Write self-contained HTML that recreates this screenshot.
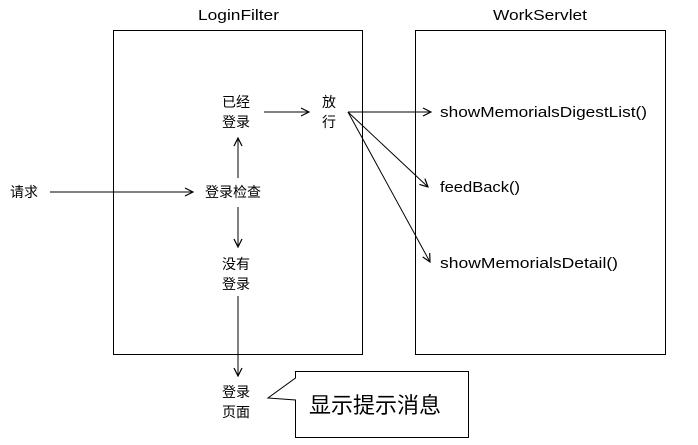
<!DOCTYPE html>
<html><head><meta charset="utf-8"><style>
body{margin:0;background:#fff;width:698px;height:440px;overflow:hidden}
text{font-family:"Liberation Sans","Noto Sans CJK SC",sans-serif;font-size:14px;fill:#000}
.l{font-size:15px}
</style></head><body>
<svg width="698" height="440" xmlns="http://www.w3.org/2000/svg">
<defs><marker id="a" markerWidth="10" markerHeight="10" refX="9" refY="5" orient="auto" markerUnits="userSpaceOnUse"><path d="M1,1 L9,5 L1,9" fill="none" stroke="#000" stroke-width="1.2"/></marker></defs>
<g fill="none" stroke="#000" stroke-width="1">
<rect x="113.5" y="30.5" width="249" height="324"/>
<rect x="415.5" y="30.5" width="250" height="324"/>
<line x1="50" y1="192" x2="193" y2="192" marker-end="url(#a)"/>
<line x1="238" y1="178" x2="238" y2="138" marker-end="url(#a)"/>
<line x1="238" y1="207" x2="238" y2="247" marker-end="url(#a)"/>
<line x1="264" y1="112" x2="309" y2="112" marker-end="url(#a)"/>
<line x1="348" y1="112" x2="431" y2="112" marker-end="url(#a)"/>
<line x1="348" y1="112" x2="428" y2="187" marker-end="url(#a)"/>
<line x1="348" y1="112" x2="430" y2="262" marker-end="url(#a)"/>
<line x1="238" y1="296" x2="238" y2="376" marker-end="url(#a)"/>
<path d="M295.5,378 L295.5,371.5 L468.5,371.5 L468.5,437.5 L295.5,437.5 L295.5,400 L268,398 Z"/>
</g>
<text class="l" x="198" y="20" textLength="81" lengthAdjust="spacingAndGlyphs">LoginFilter</text>
<text class="l" x="493" y="20" textLength="94" lengthAdjust="spacingAndGlyphs">WorkServlet</text>
<text x="10" y="197">请求</text>
<text x="205" y="197">登录检查</text>
<text x="222" y="107">已经</text>
<text x="222" y="127">登录</text>
<text x="322" y="107">放</text>
<text x="322" y="127">行</text>
<text x="222" y="269">没有</text>
<text x="222" y="289">登录</text>
<text x="222" y="397">登录</text>
<text x="222" y="417">页面</text>
<text class="l" x="440" y="117" textLength="207" lengthAdjust="spacingAndGlyphs">showMemorialsDigestList()</text>
<text class="l" x="440" y="192" textLength="80" lengthAdjust="spacingAndGlyphs">feedBack()</text>
<text class="l" x="440" y="268" textLength="178" lengthAdjust="spacingAndGlyphs">showMemorialsDetail()</text>
<text x="309" y="413" style="font-size:22px">显示提示消息</text>
</svg>
</body></html>
